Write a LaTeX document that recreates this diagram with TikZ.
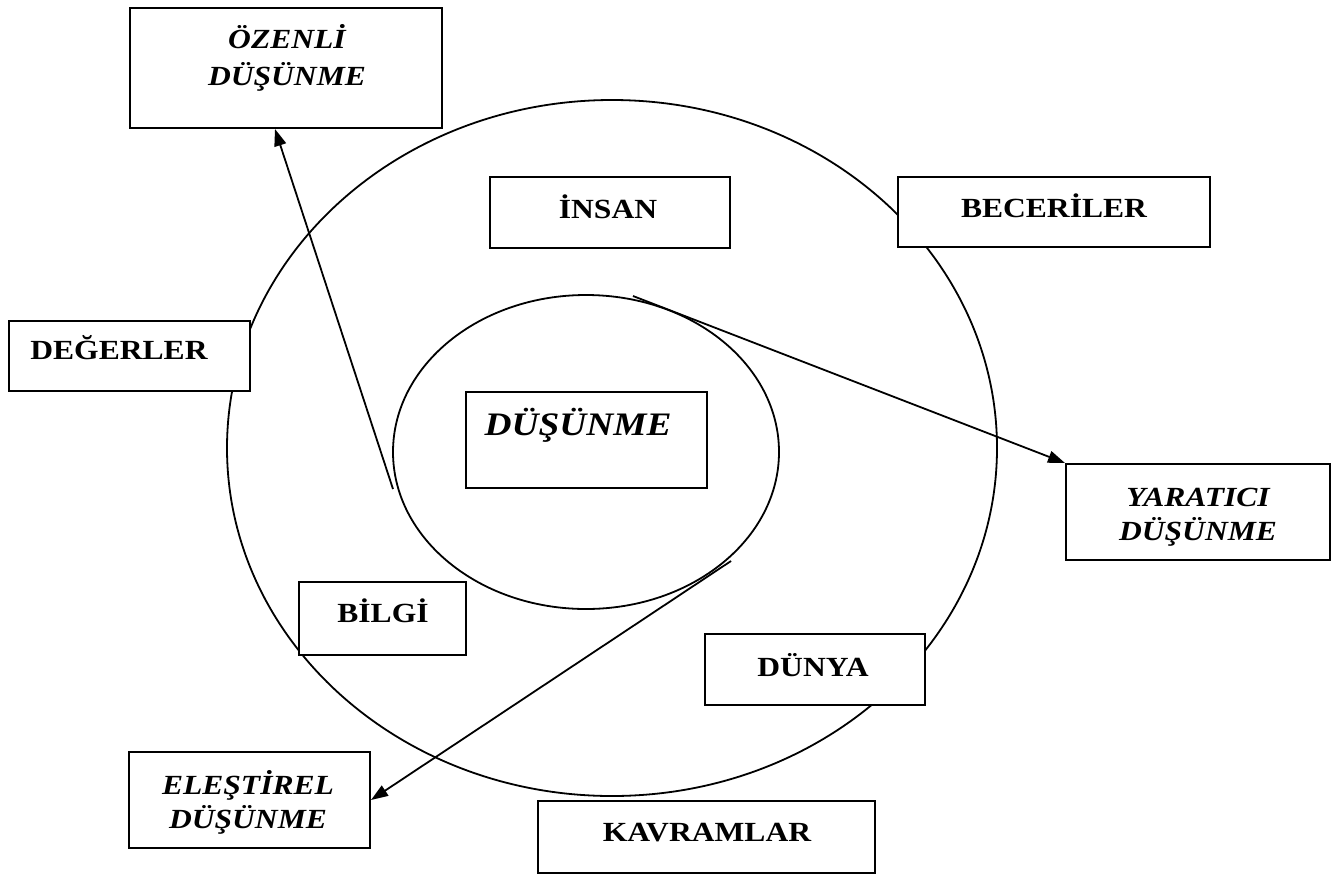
\documentclass[tikz,border=0pt]{standalone}
\usepackage{fontspec}
\setmainfont[FakeStretch=1.14]{Liberation Serif}
\usetikzlibrary{arrows.meta,calc}
\begin{document}
\begin{tikzpicture}[x=1pt,y=-1pt,
  box/.style={draw, fill=white, line width=2pt, inner sep=0pt},
  lbl/.style={font=\fontsize{27.7}{32}\selectfont\bfseries, anchor=base, inner sep=0pt},
  ilbl/.style={font=\fontsize{27.7}{32}\selectfont\bfseries\itshape, anchor=base, inner sep=0pt},
  arr/.style={line width=1.8pt, -{Triangle[length=17pt,width=12pt]}},
  ring/.style={line width=1.8pt}]
\useasboundingbox (0,0) rectangle (1340,876);
% ellipses
\draw[ring] (612,448) ellipse [x radius=385, y radius=348];
\draw[ring] (586,452) ellipse [x radius=193, y radius=157];
% boxes
\node[box, minimum width=312, minimum height=120] (ozenli) at (286,68) {};
\node[box, minimum width=240, minimum height=71] (insan) at (610,212.5) {};
\node[box, minimum width=312, minimum height=70] (beceriler) at (1054,212) {};
\node[box, minimum width=241, minimum height=70] (degerler) at (129.5,356) {};
\node[box, minimum width=241, minimum height=96] (dusunme) at (586.5,440) {};
\node[box, minimum width=264, minimum height=96] (yaratici) at (1198,512) {};
\node[box, minimum width=167, minimum height=73] (bilgi) at (382.5,618.5) {};
\node[box, minimum width=220, minimum height=71] (dunya) at (815,669.5) {};
\node[box, minimum width=241, minimum height=96] (elestirel) at (249.5,800) {};
\node[box, minimum width=337, minimum height=72] (kavramlar) at (706.5,837) {};
% labels
\node[ilbl] (t1) at (287,48.5) {ÖZENLİ};
\node[ilbl] (t2) at (287,85.5) {DÜŞÜNME};
\node[lbl] (t3) at (608,218.5) {İNSAN};
\node[lbl] (t4) at (1054,217.5) {BECERİLER};
\node[lbl] (t5) at (119,359.5) {DEĞERLER};
\node[ilbl, font=\fontsize{32.8}{38}\selectfont\bfseries\itshape] (t6) at (578,435) {DÜŞÜNME};
\node[ilbl] (t7) at (1198,506.5) {YARATICI};
\node[ilbl] (t8) at (1198,540.5) {DÜŞÜNME};
\node[lbl] (t9) at (383,622.5) {BİLGİ};
\node[lbl] (t10) at (813,676.5) {DÜNYA};
\node[ilbl] (t11) at (248,794.5) {ELEŞTİREL};
\node[ilbl] (t12) at (248,828.5) {DÜŞÜNME};
\node[lbl] (t13) at (707,841.5) {KAVRAMLAR};
% arrows
\coordinate (s1) at (393,489);
\coordinate (s2) at (633,296);
\coordinate (s3) at (731,561);
\draw[arr] (s1) -- ($(ozenli.south)+(-11,0)$);
\draw[arr] (s2) -- (yaratici.north west);
\draw[arr] (s3) -- (elestirel.east);
\end{tikzpicture}
\end{document}
